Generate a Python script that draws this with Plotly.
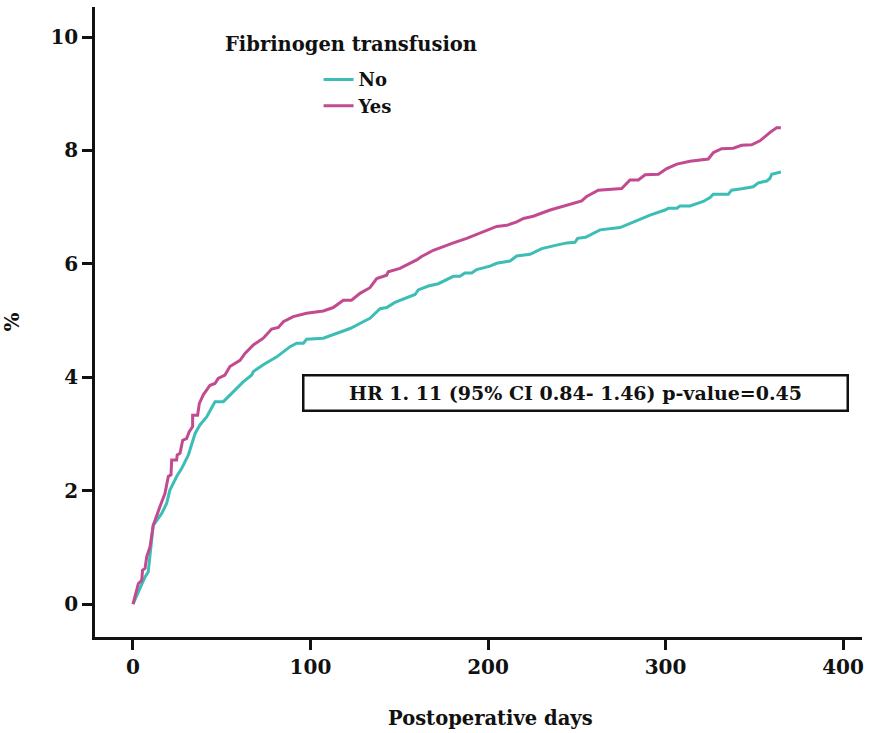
import plotly.graph_objects as go

# ---- data ----
no_days = [0, 4.9, 6.8, 8.6, 9.6, 11.1, 11.4, 16.2, 19, 20.8, 24.6, 27.4, 31.2, 35, 37.7, 41.5,
           46.2, 50.9, 56.5, 62.1, 66.9, 67.8, 73.4, 81, 88.5, 92.2, 96, 97.8, 107.2, 114.8,
           122.3, 129.7, 133.5, 139.2, 142.9, 147.6, 156, 158.9, 160.7, 166.4, 172, 180.5,
           184.2, 187, 190.8, 193.6, 201.1, 204.9, 212.4, 216.2, 223.7, 230.3, 238.6, 244.4,
           249, 250.5, 255, 263.1, 274.4, 281.9, 291.3, 299.7, 301.6, 306.4, 308.2, 313.8,
           321.3, 325.1, 326.9, 335.4, 337.2, 343.8, 349.4, 352.3, 357, 358.9, 359.8, 365]
no_vals = [0, 0.36, 0.48, 0.57, 0.89, 1.25, 1.39, 1.60, 1.78, 2.01, 2.25, 2.39, 2.63, 3.01, 3.16,
           3.30, 3.57, 3.57, 3.75, 3.92, 4.04, 4.10, 4.22, 4.36, 4.54, 4.60, 4.60, 4.67, 4.69,
           4.77, 4.86, 4.98, 5.04, 5.21, 5.23, 5.32, 5.42, 5.46, 5.54, 5.61, 5.65, 5.78, 5.78,
           5.84, 5.84, 5.90, 5.96, 6.01, 6.05, 6.14, 6.17, 6.27, 6.33, 6.37, 6.38, 6.45, 6.47,
           6.60, 6.64, 6.74, 6.86, 6.95, 6.98, 6.98, 7.02, 7.02, 7.10, 7.17, 7.23, 7.23, 7.30,
           7.33, 7.36, 7.43, 7.46, 7.51, 7.58, 7.62]

yes_days = [0, 3, 4.9, 5.4, 6.8, 7.7, 9.6, 11.4, 15.2, 18, 19.9, 21.4, 21.8, 24.6, 24.9, 26.5, 28,
            30.2, 31.7, 33.6, 33.6, 36.4, 37.4, 39.6, 43.4, 46.2, 48, 51.8, 54.6, 58.4, 60.3,
            63.1, 67.8, 73.4, 78.1, 81.9, 84.7, 90.3, 97.8, 107.2, 112.8, 118.5, 123.1, 127.9,
            133.5, 137.3, 142.9, 143.8, 150.4, 159.8, 162.6, 169.2, 176.7, 180.5, 188, 197.4,
            204.9, 210.6, 216.2, 220, 225.5, 235, 242.4, 252.8, 255.6, 262.1, 275.3, 280, 284.7,
            288.5, 296, 300.7, 306.4, 313.8, 324.1, 326.9, 331.6, 338.2, 342.9, 348.5, 353.2,
            358.9, 362.6, 365]
yes_vals = [0, 0.36, 0.42, 0.60, 0.63, 0.83, 1.01, 1.39, 1.72, 1.95, 2.25, 2.28, 2.54, 2.54, 2.63,
            2.66, 2.89, 2.92, 3.04, 3.13, 3.33, 3.33, 3.54, 3.69, 3.86, 3.89, 3.98, 4.04, 4.19,
            4.27, 4.30, 4.42, 4.57, 4.69, 4.85, 4.88, 4.98, 5.07, 5.13, 5.17, 5.23, 5.36, 5.36,
            5.48, 5.58, 5.74, 5.80, 5.86, 5.92, 6.07, 6.13, 6.24, 6.33, 6.37, 6.45, 6.57, 6.66,
            6.68, 6.74, 6.80, 6.84, 6.95, 7.02, 7.11, 7.19, 7.30, 7.33, 7.48, 7.48, 7.57, 7.58,
            7.68, 7.76, 7.81, 7.85, 7.96, 8.03, 8.04, 8.09, 8.10, 8.17, 8.32, 8.40, 8.40]

x_ticks = [0, 100, 200, 300, 400]
y_ticks = [0, 2, 4, 6, 8, 10]

FONT = "DejaVu Serif"
TEAL = "#3cbdb6"
MAGENTA = "#c24a90"

fig = go.Figure()
fig.add_trace(go.Scatter(x=no_days, y=no_vals, mode="lines", name="No",
                         line=dict(color=TEAL, width=3)))
fig.add_trace(go.Scatter(x=yes_days, y=yes_vals, mode="lines", name="Yes",
                         line=dict(color=MAGENTA, width=3)))

axis_common = dict(showgrid=False, zeroline=False, showline=True, linecolor="#111",
                   linewidth=2.5, ticks="outside", ticklen=10, tickwidth=2.5,
                   tickcolor="#111", automargin=False,
                   tickfont=dict(family=FONT, size=20, color="#111", weight="bold"))

fig.update_xaxes(range=[-21.4, 410.7], tickvals=x_ticks, **axis_common)
fig.update_yaxes(range=[-0.58, 10.53], tickvals=y_ticks,
                 title=dict(text="%", standoff=35,
                            font=dict(family=FONT, size=20, color="#111", weight="bold")),
                 **axis_common)

# x-axis title (offset to the right of centre, as in the reference)
fig.add_annotation(xref="paper", yref="paper", x=0.515, y=-0.1286, xanchor="center",
                   yanchor="middle", showarrow=False, text="Postoperative days",
                   font=dict(family=FONT, size=19.5, color="#111", weight="bold"))

# legend title
fig.add_annotation(xref="paper", yref="paper", x=0.167, y=0.941, xanchor="left",
                   yanchor="middle", showarrow=False, text="Fibrinogen transfusion",
                   font=dict(family=FONT, size=19.5, color="#111", weight="bold"))

fig.add_annotation(xref="paper", yref="paper", x=0.6265, y=0.387, xanchor="center",
                   yanchor="middle", showarrow=False,
                   text="HR 1. 11 (95% CI 0.84- 1.46) p-value=0.45",
                   width=540, height=31, bordercolor="#111", borderwidth=2.5, borderpad=1,
                   bgcolor="white",
                   font=dict(family=FONT, size=19, color="#111", weight="bold"))

fig.update_layout(
    width=879, height=733,
    margin=dict(l=95, r=17, t=7, b=96),
    paper_bgcolor="white", plot_bgcolor="white",
    showlegend=True,
    legend=dict(x=0.2915, y=0.914, xanchor="left", yanchor="top",
                bgcolor="rgba(0,0,0,0)", tracegroupgap=0, itemwidth=30,
                font=dict(family=FONT, size=18, color="#111", weight="bold")),
)

fig.write_html("out.html")
